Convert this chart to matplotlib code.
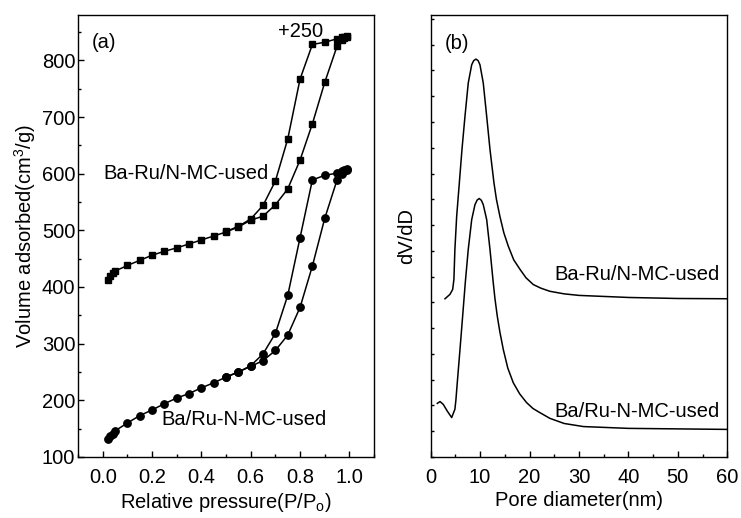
import matplotlib
matplotlib.use("Agg")
import matplotlib.pyplot as plt
from matplotlib.ticker import MultipleLocator, NullFormatter, FormatStrFormatter

plt.rcParams['font.family'] = ['Liberation Sans', 'DejaVu Sans']
plt.rcParams['mathtext.default'] = 'regular'
plt.rcParams['font.size'] = 14.5

# ---- (a) N2 isotherms ----
# Ba-Ru/N-MC-used (shifted +250)
sq_ads_p = [0.02, 0.03, 0.04, 0.05, 0.10, 0.15, 0.20, 0.25, 0.30, 0.35, 0.40, 0.45,
            0.50, 0.55, 0.60, 0.65, 0.70, 0.75, 0.80, 0.85, 0.90, 0.95, 0.97, 0.98, 0.99]
sq_ads_v = [413, 420, 425, 428, 438, 447, 456, 463, 469, 476, 483, 490,
            497, 506, 518, 525, 545, 573, 624, 688, 761, 825, 836, 840, 842]
sq_des_p = [0.99, 0.98, 0.97, 0.95, 0.90, 0.85, 0.80, 0.75, 0.70, 0.65, 0.60, 0.55, 0.50]
sq_des_v = [843, 842, 841, 838, 832, 828, 767, 661, 587, 544, 520, 507, 498]

# Ba/Ru-N-MC-used
ci_ads_p = sq_ads_p
ci_ads_v = [132, 137, 141, 146, 160, 173, 183, 194, 204, 212, 222, 231,
            241, 250, 260, 270, 288, 315, 364, 437, 521, 589, 600, 604, 607]
ci_des_p = [0.99, 0.98, 0.97, 0.95, 0.90, 0.85, 0.80, 0.75, 0.70, 0.65, 0.60, 0.55, 0.50]
ci_des_v = [608, 606, 604, 601, 597, 589, 487, 385, 318, 282, 261, 250, 241]

# ---- (b) pore size distributions (arbitrary units, offset) ----
up_d = [2.9, 3.9, 4.45, 4.7, 4.9, 5.26, 5.8, 6.33, 6.94, 7.6, 8.3, 8.7, 9.16, 9.6,
        9.97, 10.64, 11.33, 12.0, 12.8, 13.3, 14.0, 14.8, 15.7, 16.8, 18.07, 19.3,
        20.76, 22.3, 24.1, 27, 30, 40, 50, 60]
up_v = [6.14, 6.31, 6.50, 6.89, 8.05, 9.34, 10.64, 11.93, 13.22, 14.51, 15.22, 15.38,
        15.44, 15.38, 15.22, 14.51, 13.22, 11.93, 10.64, 10.0, 9.34, 8.70, 8.18, 7.65,
        7.28, 6.95, 6.69, 6.55, 6.43, 6.33, 6.27, 6.19, 6.15, 6.14]
lo_d = [1.34, 1.9, 2.55, 3.36, 4.25, 4.9, 5.1, 5.38, 5.93, 6.47, 7.0, 7.6, 8.3, 8.96,
        9.4, 9.83, 10.25, 10.64, 11.33, 12.0, 12.66, 13.0, 13.47, 14.0, 14.69, 15.6,
        16.71, 18.0, 19.4, 20.7, 22.1, 24.1, 27, 30.9, 40, 50, 60]
lo_v = [2.08, 2.15, 2.04, 1.78, 1.53, 1.85, 2.2, 2.88, 4.17, 5.47, 6.76, 8.05, 9.21,
        9.79, 9.97, 10.03, 9.96, 9.79, 9.21, 8.05, 6.76, 6.15, 5.47, 4.85, 4.17, 3.45,
        2.88, 2.45, 2.11, 1.88, 1.72, 1.50, 1.30, 1.18, 1.11, 1.09, 1.07]

label_up = "Ba-Ru/N-MC-used"
label_lo = "Ba/Ru-N-MC-used"

fig = plt.figure(figsize=(7.41, 5.18), dpi=100)
axa = fig.add_axes([0.1053, 0.1178, 0.3995, 0.8532])
axb = fig.add_axes([0.5812, 0.1178, 0.4003, 0.8532])

lw = 1.1
for ax in (axa, axb):
    for s in ax.spines.values():
        s.set_linewidth(1.0)

axa.plot(sq_ads_p, sq_ads_v, '-s', color='black', lw=lw, ms=4.8)
axa.plot(sq_des_p, sq_des_v, '-s', color='black', lw=lw, ms=4.8)
axa.plot(ci_ads_p, ci_ads_v, '-o', color='black', lw=lw, ms=5.3)
axa.plot(ci_des_p, ci_des_v, '-o', color='black', lw=lw, ms=5.3)
axa.set_xlim(-0.1, 1.1)
axa.set_ylim(100, 880)
axa.xaxis.set_major_locator(MultipleLocator(0.2))
axa.xaxis.set_minor_locator(MultipleLocator(0.1))
axa.yaxis.set_major_locator(MultipleLocator(100))
axa.yaxis.set_minor_locator(MultipleLocator(50))
axa.xaxis.set_major_formatter(FormatStrFormatter('%.1f'))
axa.tick_params(which='both', direction='in', top=False, right=False)
axa.tick_params(which='major', length=4.5, width=1.0)
axa.tick_params(which='minor', length=2.5, width=1.0)
axa.tick_params(axis='x', pad=8)
axa.tick_params(axis='y', pad=2)
axa.set_xlabel(r'Relative pressure(P/P$_{o}$)', labelpad=3)
axa.set_ylabel(r'Volume adsorbed(cm$^{3}$/g)', labelpad=3)
axa.text(-0.045, 831, '(a)', ha='left', va='center')
axa.text(0.711, 851, '+250', ha='left', va='center')
axa.text(0.0025, 601, label_up, ha='left', va='center')
axa.text(0.239, 167, label_lo, ha='left', va='center')

axb.plot(up_d, up_v, '-', color='black', lw=lw)
axb.plot(lo_d, lo_v, '-', color='black', lw=lw)
axb.set_xlim(0, 60)
axb.set_ylim(0, 17.15)
axb.xaxis.set_major_locator(MultipleLocator(10))
axb.xaxis.set_minor_locator(MultipleLocator(5))
axb.yaxis.set_major_locator(MultipleLocator(1))
axb.yaxis.set_major_formatter(NullFormatter())
axb.tick_params(which='both', direction='in', top=False, right=False)
axb.tick_params(axis='x', which='major', length=4.5, width=1.0, pad=8)
axb.tick_params(axis='x', which='minor', length=2.5, width=1.0)
axb.tick_params(axis='y', which='major', length=2.5, width=1.0)
axb.set_xlabel('Pore diameter(nm)', labelpad=3)
axb.set_ylabel('dV/dD', labelpad=7)
axb.text(2.9, 16.06, '(b)', ha='left', va='center')
axb.text(58.5, 7.08, label_up, ha='right', va='center')
axb.text(58.5, 1.78, label_lo, ha='right', va='center')

fig.savefig('out.png', dpi=100)
